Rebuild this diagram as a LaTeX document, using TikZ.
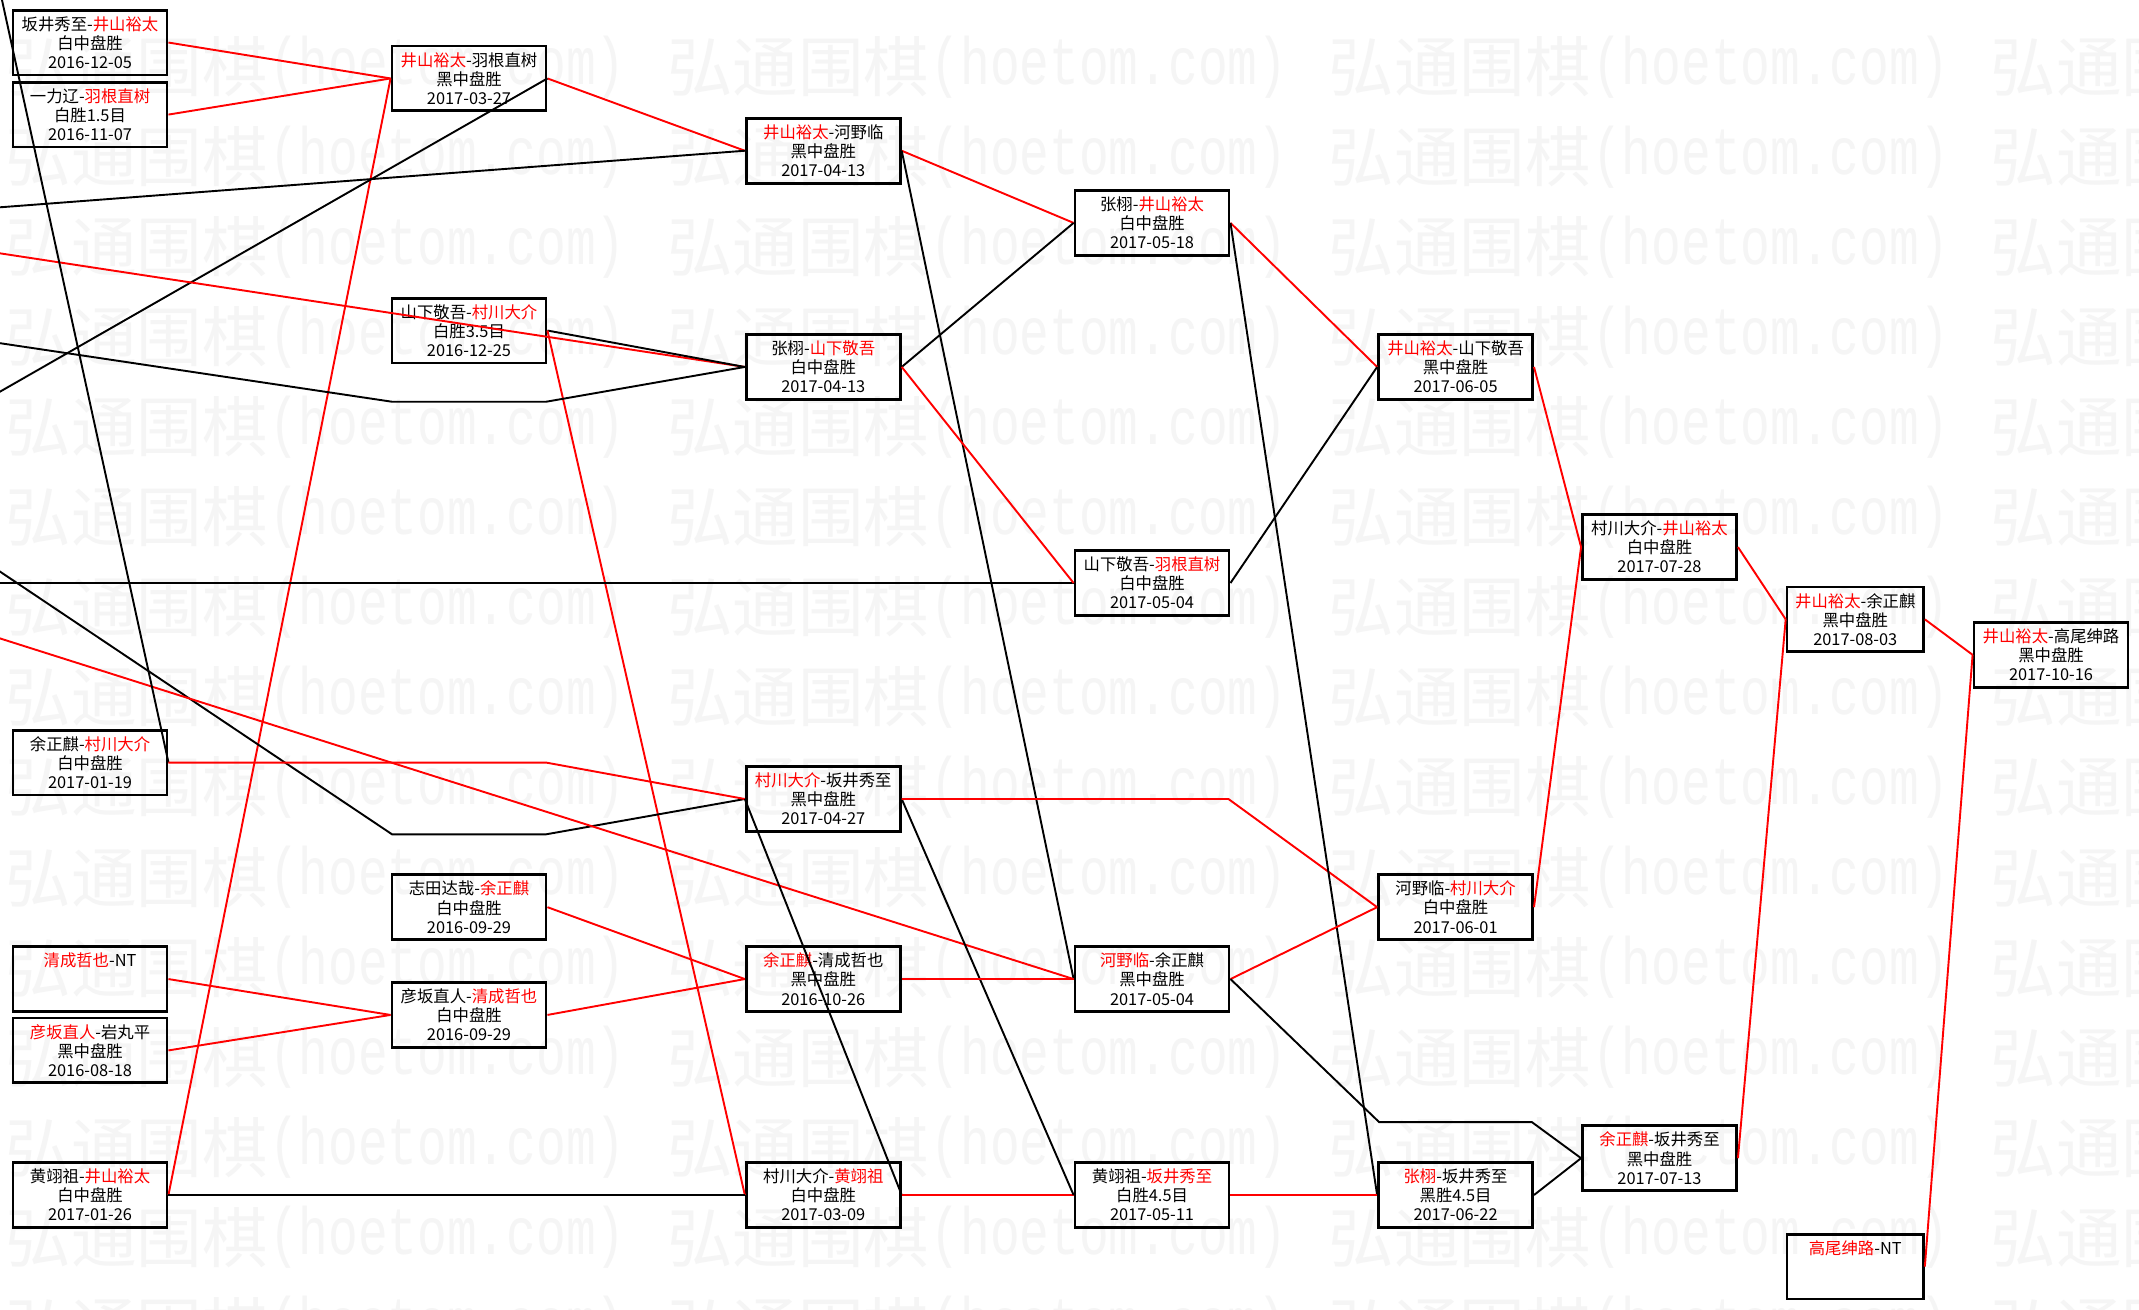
\documentclass[tikz,border=0pt]{standalone}
\usepackage{fontspec}
\setmainfont{Noto Sans CJK SC}
\newfontfamily\wmcjk{Noto Sans CJK SC}
\newfontfamily\wmmono{Liberation Mono}
\newcommand{\rn}[1]{\textcolor{red}{#1}}
\tikzset{
  game/.style={draw=black, line width=2pt, rectangle, inner sep=0pt,
    minimum height=47.5pt, minimum width=113pt, align=center,
    font=\fontsize{12}{14}\selectfont},
  narrow/.style={minimum width=100pt},
  win/.style={draw=red, line width=1.4pt},
  lose/.style={draw=black, line width=1.4pt},
  wm/.style={text=black!4, anchor=west, inner sep=0pt}
}
\begin{document}
\begin{tikzpicture}[x=1pt,y=-1pt]
\useasboundingbox (0,0) rectangle (1568,960);
\fill[white] (0,0) rectangle (1568,960);
% watermark
\begin{scope}
\clip (0,0) rectangle (1568,960);
\foreach \j in {0,...,3}{
  \foreach \k in {0,...,14}{
    \node[wm] (wa-\j-\k) at (4+485*\j, 49+66*\k) {\wmcjk\fontsize{48}{48}\selectfont 弘通围棋};
    \node[wm] (wb-\j-\k) at (197+485*\j, 49+66*\k) {\scalebox{1}[1.35]{\wmmono\fontsize{36.3}{36}\selectfont (hoetom.com)}};
  }
}
\end{scope}
% column 1
\node[game] (A1) at (66,31.2)  {坂井秀至-\rn{井山裕太}\\白中盘胜\\2016-12-05};
\node[game] (A2) at (66,84)    {一力辽-\rn{羽根直树}\\白胜1.5目\\2016-11-07};
\node[game] (A3) at (66,559)   {余正麒-\rn{村川大介}\\白中盘胜\\2017-01-19};
\node[game] (A4) at (66,717.7) {\rn{清成哲也}-NT\\\mbox{}\\\mbox{}};
\node[game] (A5) at (66,770)   {\rn{彦坂直人}-岩丸平\\黑中盘胜\\2016-08-18};
\node[game] (A6) at (66,876)   {黄翊祖-\rn{井山裕太}\\白中盘胜\\2017-01-26};
% column 2
\node[game] (B1) at (343.8,57.5)  {\rn{井山裕太}-羽根直树\\黑中盘胜\\2017-03-27};
\node[game] (B2) at (343.8,242.3) {山下敬吾-\rn{村川大介}\\白胜3.5目\\2016-12-25};
\node[game] (B3) at (343.8,665)   {志田达哉-\rn{余正麒}\\白中盘胜\\2016-09-29};
\node[game] (B4) at (343.8,744)   {彦坂直人-\rn{清成哲也}\\白中盘胜\\2016-09-29};
% column 3
\node[game] (C1) at (603.5,110.5) {\rn{井山裕太}-河野临\\黑中盘胜\\2017-04-13};
\node[game] (C2) at (603.5,269)   {张栩-\rn{山下敬吾}\\白中盘胜\\2017-04-13};
\node[game] (C3) at (603.5,585.7) {\rn{村川大介}-坂井秀至\\黑中盘胜\\2017-04-27};
\node[game] (C4) at (603.5,717.7) {\rn{余正麒}-清成哲也\\黑中盘胜\\2016-10-26};
\node[game] (C5) at (603.5,876)   {村川大介-\rn{黄翊祖}\\白中盘胜\\2017-03-09};
% column 4
\node[game] (D1) at (844.5,163.4) {张栩-\rn{井山裕太}\\白中盘胜\\2017-05-18};
\node[game] (D2) at (844.5,427.4) {山下敬吾-\rn{羽根直树}\\白中盘胜\\2017-05-04};
\node[game] (D3) at (844.5,717.7) {\rn{河野临}-余正麒\\黑中盘胜\\2017-05-04};
\node[game] (D4) at (844.5,876)   {黄翊祖-\rn{坂井秀至}\\白胜4.5目\\2017-05-11};
% column 5
\node[game] (E1) at (1067,269)  {\rn{井山裕太}-山下敬吾\\黑中盘胜\\2017-06-05};
\node[game] (E2) at (1067,665)  {河野临-\rn{村川大介}\\白中盘胜\\2017-06-01};
\node[game] (E3) at (1067,876)  {\rn{张栩}-坂井秀至\\黑胜4.5目\\2017-06-22};
% column 6
\node[game] (F1) at (1216.5,401) {村川大介-\rn{井山裕太}\\白中盘胜\\2017-07-28};
\node[game] (F2) at (1216.5,849) {\rn{余正麒}-坂井秀至\\黑中盘胜\\2017-07-13};
% column 7
\node[game,narrow] (G1) at (1360,454)   {\rn{井山裕太}-余正麒\\黑中盘胜\\2017-08-03};
\node[game,narrow] (G2) at (1360,928.5) {\rn{高尾绅路}-NT\\\mbox{}\\\mbox{}};
% column 8
\node[game] (H1) at (1503.5,480) {\rn{井山裕太}-高尾绅路\\黑中盘胜\\2017-10-16};
% free ends and bends
\coordinate (z1) at (-8.3,-44.7);
\coordinate (z2) at (-40,155);
\coordinate (z3) at (-40,310);
\coordinate (z4) at (-40,179.6);
\coordinate (z5) at (-40,245.6);
\coordinate (z6) at (-40,392.2);
\coordinate (z7) at (-40,427.4);
\coordinate (z8) at (-40,455.3);
\coordinate (b5a) at (287.4,294.5);
\coordinate (b5b) at (400.3,294.5);
\coordinate (b6a) at (287.4,611.6);
\coordinate (b6b) at (400.3,611.6);
\coordinate (b3a) at (400.3,559);
\coordinate (b7a) at (900.5,585.7);
\coordinate (b8a) at (1011,822.6);
\coordinate (b8b) at (1123,822.6);
\begin{scope}
\clip (0,0) rectangle (1568,960);
\draw[win] (A1.east) -- (B1.west);
\draw[win] (A2.east) -- (B1.west);
\draw[win] (A6.east) -- (B1.west);
\draw[win] (B1.east) -- (C1.west);
\draw[lose] (B1.east) -- (z3);
\draw[lose] (z2) -- (C1.west);
\draw[win] (z4) -- (C2.west);
\draw[lose] (B2.east) -- (C2.west);
\draw[win] (B2.east) -- (C5.west);
\draw[lose] (z5) -- (b5a) -- (b5b) -- (C2.west);
\draw[lose] (z6) -- (b6a) -- (b6b) -- (C3.west);
\draw[lose] (z7) -- (D2.west);
\draw[win] (z8) -- (D3.west);
\draw[lose] (A3.east) -- (z1);
\draw[win] (A3.east) -- (b3a) -- (C3.west);
\draw[win] (A4.east) -- (B4.west);
\draw[win] (A5.east) -- (B4.west);
\draw[win] (B3.east) -- (C4.west);
\draw[win] (B4.east) -- (C4.west);
\draw[lose] (A6.east) -- (C5.west);
\draw[lose] (C5.east) -- (C3.west);
\draw[win] (C5.east) -- (D4.west);
\draw[win] (C1.east) -- (D1.west);
\draw[lose] (C1.east) -- (D3.west);
\draw[lose] (C2.east) -- (D1.west);
\draw[win] (C2.east) -- (D2.west);
\draw[lose] (C3.east) -- (D4.west);
\draw[win] (C3.east) -- (b7a) -- (E2.west);
\draw[win] (C4.east) -- (D3.west);
\draw[win] (D1.east) -- (E1.west);
\draw[lose] (D1.east) -- (E3.west);
\draw[lose] (D2.east) -- (E1.west);
\draw[win] (D3.east) -- (E2.west);
\draw[lose] (D3.east) -- (b8a) -- (b8b) -- (F2.west);
\draw[win] (D4.east) -- (E3.west);
\draw[win] (E1.east) -- (F1.west);
\draw[win] (E2.east) -- (F1.west);
\draw[lose] (E3.east) -- (F2.west);
\draw[win] (F1.east) -- (G1.west);
\draw[win] (F2.east) -- (G1.west);
\draw[win] (G1.east) -- (H1.west);
\draw[win] (G2.east) -- (H1.west);
\end{scope}
\end{tikzpicture}
\end{document}
